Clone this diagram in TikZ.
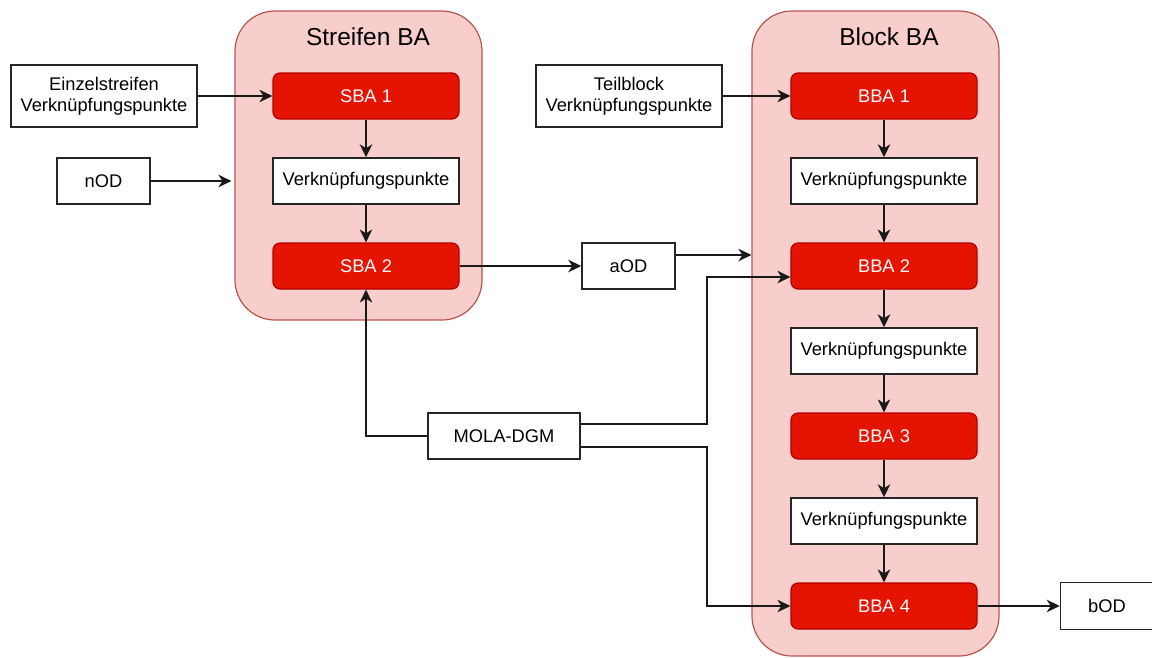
\documentclass[tikz,border=0pt]{standalone}
\usepackage{fontspec}
\setmainfont{Liberation Sans}
\usetikzlibrary{arrows.meta}
\definecolor{redfill}{HTML}{E51400}
\definecolor{redline}{HTML}{B20000}
\definecolor{grpfill}{HTML}{F8CECC}
\definecolor{grpline}{HTML}{B85450}
\begin{document}
\begin{tikzpicture}[x=1pt,y=-1pt,
  group/.style={draw=grpline, fill=grpfill, rounded corners=40pt, line width=1.2pt, inner sep=0pt},
  grouptitle/.style={font=\fontsize{24.5}{28}\selectfont, text=black},
  redbox/.style={draw=redline, fill=redfill, rounded corners=7pt, minimum width=186pt,
    minimum height=46pt, inner sep=0pt, text=white, font=\fontsize{18.3}{21}\selectfont, line width=1.2pt},
  plainbox/.style={draw=black!85, fill=white, minimum height=46pt, inner sep=0pt,
    align=center, font=\fontsize{18.3}{21}\selectfont, line width=1.5pt},
  conn/.style={line width=1.5pt, draw=black!90, -{Stealth[length=13pt,width=12.5pt,inset=4pt]}}
]
\useasboundingbox (0,0) rectangle (1152,657);

% containers
\node[group, minimum width=247pt, minimum height=309pt] (sgrp) at (358.5,165.5) {};
\node[group, minimum width=247pt, minimum height=645pt] (bgrp) at (875.5,333.5) {};
\node[grouptitle] (stitle) at (368,37) {Streifen BA};
\node[grouptitle] (btitle) at (889,37) {Block BA};

% strip adjustment
\node[redbox] (sba1) at (366,96) {SBA 1};
\node[plainbox, minimum width=186pt] (sv) at (366,181) {Verknüpfungspunkte};
\node[redbox] (sba2) at (366,266) {SBA 2};

% block adjustment
\node[redbox] (bba1) at (884,96) {BBA 1};
\node[plainbox, minimum width=186pt] (bv1) at (884,181) {Verknüpfungspunkte};
\node[redbox] (bba2) at (884,266) {BBA 2};
\node[plainbox, minimum width=186pt] (bv2) at (884,351) {Verknüpfungspunkte};
\node[redbox] (bba3) at (884,436) {BBA 3};
\node[plainbox, minimum width=186pt] (bv3) at (884,521) {Verknüpfungspunkte};
\node[redbox] (bba4) at (884,606) {BBA 4};

% inputs and outputs
\node[plainbox, minimum width=186pt, minimum height=62pt] (einz) at (104,96) {Einzelstreifen\\Verknüpfungspunkte};
\node[plainbox, minimum width=93pt] (nod) at (103.5,181) {nOD};
\node[plainbox, minimum width=186pt, minimum height=62pt] (teil) at (629,96) {Teilblock\\Verknüpfungspunkte};
\node[plainbox, minimum width=93pt] (aod) at (628.5,266) {aOD};
\node[plainbox, minimum width=152pt] (mola) at (504,436) {MOLA-DGM};
\node[plainbox, minimum width=93pt, minimum height=47pt] (bod) at (1107,606) {bOD};

% bend points of the DGM connectors
\coordinate (bendup) at (707,277);
\coordinate (benddown) at (707,606);

% connectors
\draw[conn] (einz) -- (sba1);
\draw[conn] (nod.east) -- ([xshift=-3pt]nod.east -| sgrp.west);
\draw[conn] (sba1) -- (sv);
\draw[conn] (sv) -- (sba2);
\draw[conn] (sba2) -- (aod);
\draw[conn] ([yshift=11pt]aod.east) -- ([yshift=11pt]aod.east -| bgrp.west);
\draw[conn] (mola.west) -| (sba2.south);
\draw[conn] ([yshift=12pt]mola.east) -| (bendup) -- ([yshift=-11pt]bba2.west);
\draw[conn] ([yshift=-11pt]mola.east) -| (benddown) -- (bba4.west);

\draw[conn] (teil) -- (bba1);
\draw[conn] (bba1) -- (bv1);
\draw[conn] (bv1) -- (bba2);
\draw[conn] (bba2) -- (bv2);
\draw[conn] (bv2) -- (bba3);
\draw[conn] (bba3) -- (bv3);
\draw[conn] (bv3) -- (bba4);
\draw[conn] (bba4) -- (bod);
\end{tikzpicture}
\end{document}
